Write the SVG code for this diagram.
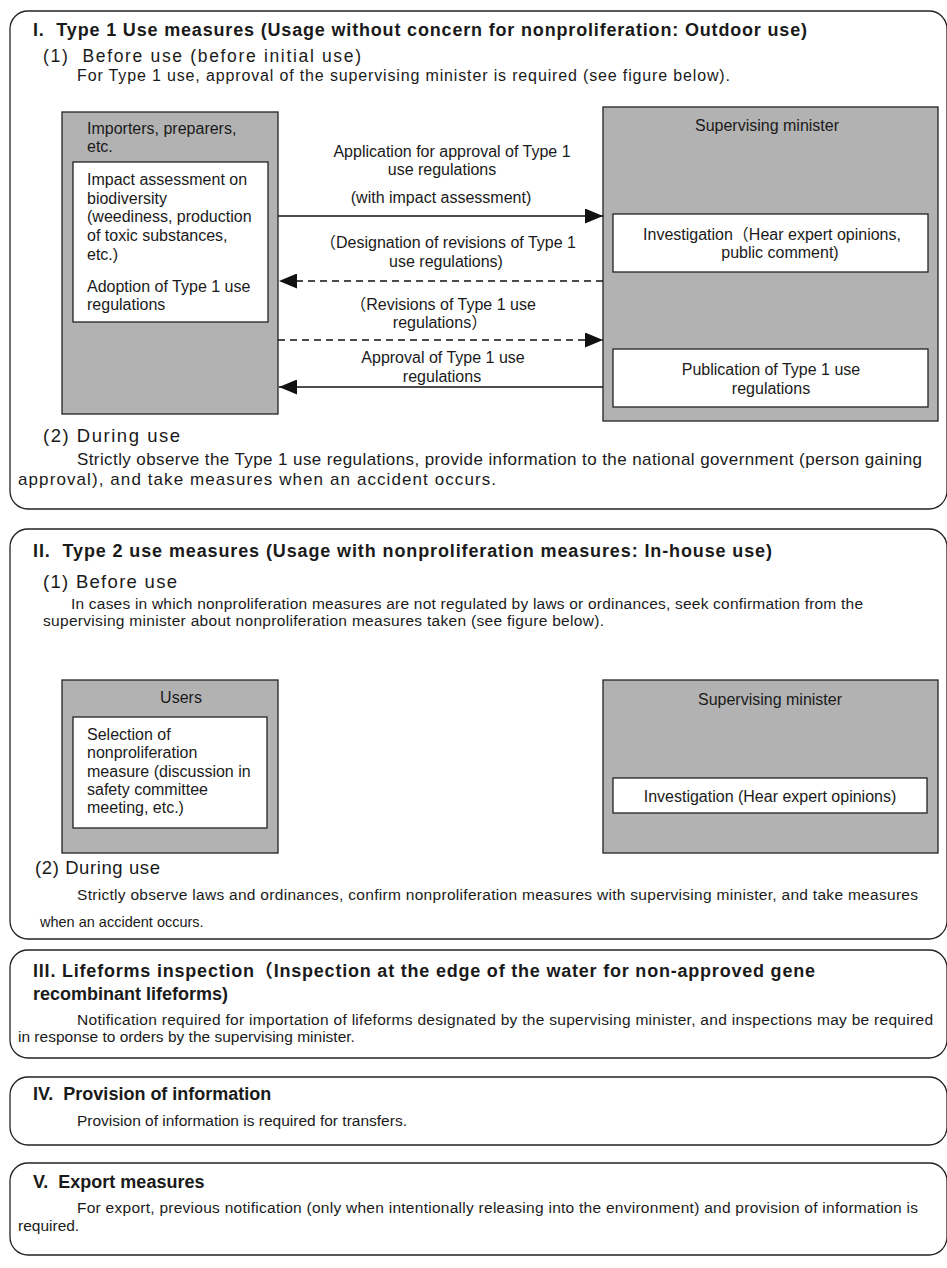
<svg xmlns="http://www.w3.org/2000/svg" width="947" height="1268" viewBox="0 0 947 1268">
<defs>
<style>
text{font-family:"Liberation Sans",Arial,"Noto Sans CJK JP",sans-serif;fill:#1a1a1a;white-space:pre}
.sec{fill:#fff;stroke:#222;stroke-width:1.3}
.gray{fill:#b2b2b2;stroke:#222;stroke-width:1.3}
.white{fill:#fff;stroke:#222;stroke-width:1.3}
.t{font-size:18px;font-weight:bold}
.h{font-size:18.5px}
.p1{font-size:17px}
.p{font-size:15.5px}
.b{font-size:16px}
.c{text-anchor:middle}
.ln{stroke:#111;stroke-width:1.6;fill:none}
.dash{stroke-dasharray:7 5}
</style>
<marker id="ah" markerUnits="userSpaceOnUse" markerWidth="18" markerHeight="15" refX="18" refY="7.5" orient="auto" viewBox="0 0 18 15">
<path d="M0,0 L18,7.5 L0,15 z" fill="#111"/>
</marker>
</defs>
<rect width="947" height="1268" fill="#fff"/>

<g id="section1">
<rect class="sec" x="10" y="11" width="937" height="498" rx="18"/>
<text class="t" x="33" y="36" textLength="774" lengthAdjust="spacing">I.  Type 1 Use measures (Usage without concern for nonproliferation: Outdoor use)</text>
<text class="h" x="43" y="62" style="font-size:17.5px" textLength="318" lengthAdjust="spacing">(1)  Before use (before initial use)</text>
<text class="p1" x="77" y="81" style="font-size:16px" textLength="653" lengthAdjust="spacing">For Type 1 use, approval of the supervising minister is required (see figure below).</text>
<text class="h" x="43" y="442" textLength="137" lengthAdjust="spacing">(2) During use</text>
<text class="p1" x="77" y="465" textLength="845" lengthAdjust="spacing">Strictly observe the Type 1 use regulations, provide information to the national government (person gaining</text>
<text class="p1" x="18" y="485" textLength="478" lengthAdjust="spacing">approval), and take measures when an accident occurs.</text>
</g>

<g id="importers">
<rect class="gray" x="62" y="112" width="216" height="302"/>
<text class="b" x="87" y="134">Importers, preparers,</text>
<text class="b" x="87" y="152">etc.</text>
<rect class="white" x="73" y="162" width="195" height="160"/>
<text class="b" x="87" y="185">Impact assessment on</text>
<text class="b" x="87" y="204">biodiversity</text>
<text class="b" x="87" y="222">(weediness, production</text>
<text class="b" x="87" y="241">of toxic substances,</text>
<text class="b" x="87" y="260">etc.)</text>
<text class="b" x="87" y="292">Adoption of Type 1 use</text>
<text class="b" x="87" y="310">regulations</text>
</g>

<g id="minister1">
<rect class="gray" x="603" y="107" width="335" height="314"/>
<text class="b c" x="767" y="131">Supervising minister</text>
<rect class="white" x="613" y="214" width="315" height="58"/>
<text class="b c" x="772" y="240">Investigation（Hear expert opinions,</text>
<text class="b c" x="780" y="258">public comment)</text>
<rect class="white" x="613" y="349" width="315" height="58"/>
<text class="b c" x="771" y="375">Publication of Type 1 use</text>
<text class="b c" x="771" y="394">regulations</text>
</g>

<g id="connectors">
<path class="ln" d="M278,216 H603" marker-end="url(#ah)"/>
<path class="ln dash" d="M603,281 H279" marker-end="url(#ah)"/>
<path class="ln dash" d="M278,340 H603" marker-end="url(#ah)"/>
<path class="ln" d="M603,387 H279" marker-end="url(#ah)"/>
<path class="ln" d="M278,777 H603" marker-end="url(#ah)"/>
<path class="ln" d="M603,821 H279" marker-end="url(#ah)"/>
<text class="b c" x="452" y="157">Application for approval of Type 1</text>
<text class="b c" x="442" y="175">use regulations</text>
<text class="b c" x="441" y="203">(with impact assessment)</text>
<text class="b c" x="448" y="248">（Designation of revisions of Type 1</text>
<text class="b c" x="446" y="267">use regulations)</text>
<text class="b c" x="443" y="310">（Revisions of Type 1 use</text>
<text class="b c" x="440" y="328">regulations）</text>
<text class="b c" x="443" y="363">Approval of Type 1 use</text>
<text class="b c" x="442" y="382">regulations</text>
<text class="b c" x="446" y="760">File report of nonproliferation measure</text>
<text class="b c" x="446" y="807">Confirmation</text>
</g>

<g id="section2">
<rect class="sec" x="10" y="529" width="937" height="410" rx="18"/>
<text class="t" x="33" y="557" textLength="739" lengthAdjust="spacing">II.  Type 2 use measures (Usage with nonproliferation measures: In-house use)</text>
<text class="h" x="43" y="588" textLength="134" lengthAdjust="spacing">(1) Before use</text>
<text class="p" x="71" y="609" textLength="792" lengthAdjust="spacing">In cases in which nonproliferation measures are not regulated by laws or ordinances, seek confirmation from the</text>
<text class="p" x="43" y="626" textLength="561" lengthAdjust="spacing">supervising minister about nonproliferation measures taken (see figure below).</text>
<text class="h" x="35" y="874" textLength="125" lengthAdjust="spacing">(2) During use</text>
<text class="p" x="77" y="900" textLength="841" lengthAdjust="spacing">Strictly observe laws and ordinances, confirm nonproliferation measures with supervising minister, and take measures</text>
<text class="p" x="40" y="927" style="font-size:14.5px">when an accident occurs.</text>
</g>

<g id="users">
<rect class="gray" x="62" y="680" width="216" height="173"/>
<text class="b c" x="181" y="703">Users</text>
<rect class="white" x="73" y="717" width="194" height="111"/>
<text class="b" x="87" y="740">Selection of</text>
<text class="b" x="87" y="758">nonproliferation</text>
<text class="b" x="87" y="777">measure (discussion in</text>
<text class="b" x="87" y="795">safety committee</text>
<text class="b" x="87" y="813">meeting, etc.)</text>
</g>

<g id="minister2">
<rect class="gray" x="603" y="680" width="335" height="173"/>
<text class="b c" x="770" y="705">Supervising minister</text>
<rect class="white" x="613" y="778" width="314" height="35"/>
<text class="b c" x="770" y="802">Investigation (Hear expert opinions)</text>
</g>

<g id="section3">
<rect class="sec" x="10" y="950" width="937" height="108" rx="18"/>
<text class="t" x="33" y="977" textLength="782" lengthAdjust="spacing">III. Lifeforms inspection（Inspection at the edge of the water for non-approved gene</text>
<text class="t" x="33" y="1000">recombinant lifeforms)</text>
<text class="p" x="77" y="1025" textLength="856" lengthAdjust="spacing">Notification required for importation of lifeforms designated by the supervising minister, and inspections may be required</text>
<text class="p" x="18" y="1042">in response to orders by the supervising minister.</text>
</g>

<g id="section4">
<rect class="sec" x="10" y="1077" width="937" height="68" rx="18"/>
<text class="t" x="33" y="1100">IV.  Provision of information</text>
<text class="p" x="77" y="1126">Provision of information is required for transfers.</text>
</g>

<g id="section5">
<rect class="sec" x="10" y="1163" width="937" height="92" rx="18"/>
<text class="t" x="33" y="1188">V.  Export measures</text>
<text class="p" x="77" y="1213" textLength="841" lengthAdjust="spacing">For export, previous notification (only when intentionally releasing into the environment) and provision of information is</text>
<text class="p" x="18" y="1231">required.</text>
</g>
</svg>
